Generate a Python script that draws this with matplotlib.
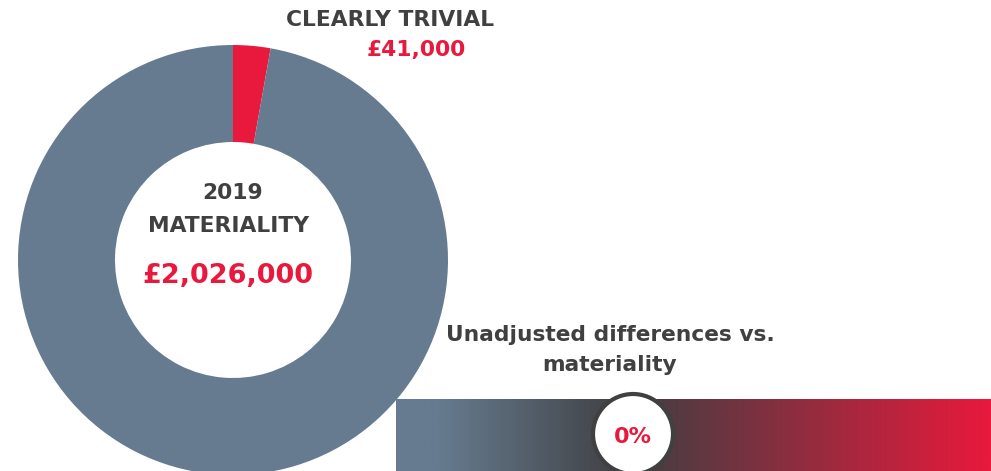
import numpy as np
import matplotlib.pyplot as plt
from matplotlib.colors import LinearSegmentedColormap
from matplotlib.patches import Circle

# donut shares and labels
shares = [2.8, 97.2]
slice_colors = ["#e8193c", "#667b8f"]
title_year = "2019"
title_name = "MATERIALITY"
materiality = "£2,026,000"
trivial_label = "CLEARLY TRIVIAL"
trivial_value = "£41,000"
diff_label = "Unadjusted differences vs.\nmateriality"
diff_value = "0%"

grey = "#404040"
red = "#e8193c"

W, H = 991, 471
fig = plt.figure(figsize=(W / 100, H / 100), dpi=100)
ax = fig.add_axes([0, 0, 1, 1])

# gradient band along the bottom
cmap = LinearSegmentedColormap.from_list(
    "band", [(0.0, "#667b8f"), (0.07, "#667b8f"), (0.39, "#3f3f42"), (1.0, "#e8193c")])
grad = np.linspace(0, 1, 600).reshape(1, -1)
ax.imshow(grad, cmap=cmap, aspect="auto", extent=[396, 991, 0, 72], zorder=0)

# donut
ax.pie(shares, colors=slice_colors, startangle=90, counterclock=False,
       center=(233, 211), radius=215,
       wedgeprops=dict(width=97, linewidth=0))

# white circle with the percentage
ax.add_patch(Circle((633, 37), 40, facecolor="white", edgecolor=grey, linewidth=3, zorder=3))
ax.text(633, 34, diff_value, ha="center", va="center", color=red,
        fontsize=16, fontweight="bold", zorder=4)

# texts
fs = 15.7
ax.text(233, 278, title_year, ha="center", va="center", color=grey, fontsize=fs, fontweight="bold")
ax.text(229, 245, title_name, ha="center", va="center", color=grey, fontsize=fs, fontweight="bold")
ax.text(228, 195, materiality, ha="center", va="center", color=red, fontsize=19.5, fontweight="bold")
ax.text(390, 451, trivial_label, ha="center", va="center", color=grey, fontsize=fs, fontweight="bold")
ax.text(416, 421, trivial_value, ha="center", va="center", color=red, fontsize=fs, fontweight="bold")
ax.text(610, 121, diff_label, ha="center", va="center", color=grey, fontsize=fs,
        fontweight="bold", linespacing=1.65)

ax.set_xlim(0, W)
ax.set_ylim(0, H)
ax.set_aspect("auto")
ax.axis("off")

fig.savefig("out.png", dpi=100)
